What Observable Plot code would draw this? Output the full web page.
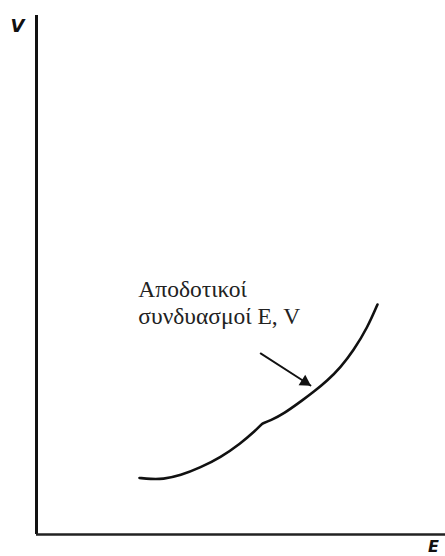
<!DOCTYPE html>
<html>
<head>
<meta charset="utf-8">
<script src="https://cdn.jsdelivr.net/npm/d3@7"></script>
<script src="https://cdn.jsdelivr.net/npm/@observablehq/plot@0.6"></script>
<style>
  html, body { margin: 0; padding: 0; background: #fff; }
  #chart svg { display: block; }
</style>
</head>
<body>
<div id="chart"></div>
<script>
// Efficient combinations of E and V (schematic curve, axis units 0–100)
const curveE = [25.18, 27.87, 30.81, 35.21, 40.10, 44.99, 49.88, 53.55, 55.26, 55.26, 57.21, 60.39, 65.28, 67.73, 71.15, 74.33, 77.51, 80.93, 83.37];
const curveV = [10.89, 10.69, 10.64, 11.37, 12.91, 14.84, 17.53, 20.04, 21.39, 21.39, 21.97, 23.22, 26.01, 27.46, 29.67, 32.18, 35.45, 39.88, 44.32];

// Annotation arrow (from label towards the curve)
const arrowFrom = {E: 54.8, V: 34.9};
const arrowTo = {E: 67.0, V: 28.7};

// Annotation text
const noteLines = ["Αποδοτικοί", "συνδυασμοί E, V"];
const noteAt = {E: 24.9, V: 49.3};

// Axis names
const axisNames = ["V", "E"];

const curve = curveE.map((e, i) => ({E: e, V: curveV[i]}));

const chart = Plot.plot({
  width: 445,
  height: 556,
  marginLeft: 36,
  marginRight: 0,
  marginTop: 15,
  marginBottom: 22,
  x: {domain: [0, 100], axis: null},
  y: {domain: [0, 100], axis: null},
  marks: [
    Plot.ruleX([0], {y1: 0, y2: 100, stroke: "#111", strokeWidth: 3}),
    Plot.ruleY([0], {x1: 0, x2: 100, stroke: "#222", strokeWidth: 2.5}),
    Plot.line(curve, {x: "E", y: "V", curve: "basis", stroke: "#111", strokeWidth: 2.6, strokeLinecap: "round"}),
    Plot.arrow([{x1: arrowFrom.E, y1: arrowFrom.V, x2: arrowTo.E, y2: arrowTo.V}], {
      x1: "x1", y1: "y1", x2: "x2", y2: "y2",
      stroke: "#111", strokeWidth: 1.8, headLength: 0
    }),
    // filled arrowhead at the tip
    Plot.dot([arrowTo], {
      x: "E", y: "V", symbol: "triangle", r: 4.6, rotate: 122.6,
      dx: -5.6, dy: -3.6, fill: "#111", stroke: "none"
    }),
    Plot.text([noteLines.join("\n")], {
      x: noteAt.E, y: noteAt.V, text: d => d,
      textAnchor: "start", lineAnchor: "top", lineHeight: 1.12,
      fontFamily: "'Liberation Serif', 'Times New Roman', serif", fontSize: 23.5, fill: "#222"
    }),
    Plot.text([axisNames[0]], {
      x: 0, y: 100, text: d => d, dx: -19, dy: 11,
      fontFamily: "DejaVu Sans", fontWeight: "bold", fontStyle: "italic",
      fontSize: 18, fill: "#111"
    }),
    Plot.text([axisNames[1]], {
      x: 100, y: 0, text: d => d, dx: -12, dy: 12,
      fontFamily: "DejaVu Sans", fontWeight: "bold", fontStyle: "italic",
      fontSize: 16, fill: "#111"
    })
  ]
});
document.getElementById("chart").append(chart);
</script>
</body>
</html>
